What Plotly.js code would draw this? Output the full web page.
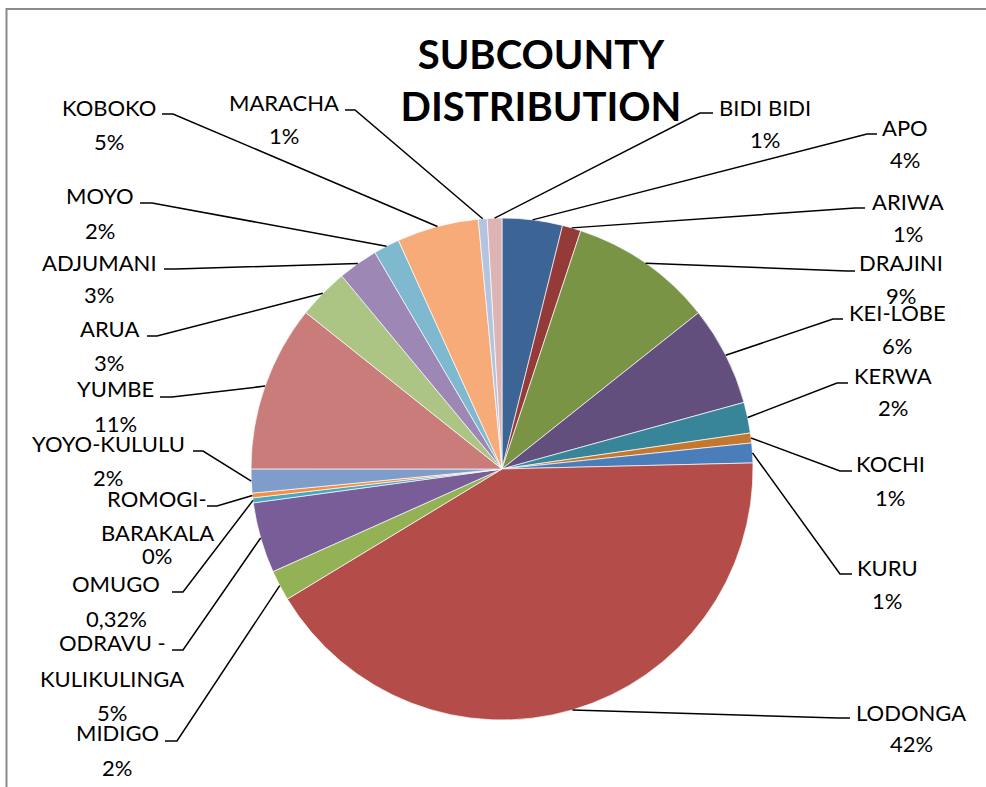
<!DOCTYPE html>
<html>
<head>
<meta charset="utf-8">
<script src="https://cdn.plot.ly/plotly-3.0.1.min.js"></script>
<style>html,body{margin:0;padding:0;background:#fff;}#chart{width:986px;height:787px;}</style>
</head>
<body>
<div id="chart"></div>
<script>
// ---- data ----
const categories = ["APO","ARIWA","DRAJINI","KEI-LOBE","KERWA","KOCHI","KURU","LODONGA","MIDIGO","ODRAVU - KULIKULINGA","OMUGO","ROMOGI-BARAKALA","YOYO-KULULU","YUMBE","ARUA","ADJUMANI","MOYO","KOBOKO","MARACHA","BIDI BIDI"];
const values = [3.88,1.2,9.23,6.42,1.98,0.64,1.27,41.72,1.97,4.55,0.32,0.3,1.54,10.71,3.26,2.58,1.68,5.26,0.57,0.94];
const pctLabels = ["4%","1%","9%","6%","2%","1%","1%","42%","2%","5%","0,32%","0%","2%","11%","3%","3%","2%","5%","1%","1%"];
const nameLines = [["APO"],["ARIWA"],["DRAJINI"],["KEI-LOBE"],["KERWA"],["KOCHI"],["KURU"],["LODONGA"],["MIDIGO"],["ODRAVU -","KULIKULINGA"],["OMUGO"],["ROMOGI-","BARAKALA"],["YOYO-KULULU"],["YUMBE"],["ARUA"],["ADJUMANI"],["MOYO"],["KOBOKO"],["MARACHA"],["BIDI BIDI"]];
const colors = ["#3C6494","#943B39","#7A9445","#624F7E","#388599","#C4772F","#4A7EBB","#B44C49","#93B155","#785D99","#46A8C2","#F58D42","#7F9DCA","#C97C7A","#ADC584","#9D88B5","#7EB9D0","#F7AB79","#B3C4E0","#DDB4B3"];

// ---- layout (pixels) ----
const W = 986, H = 787;
const PC = {x: 502, y: 469, r: 251};
// x: text centre, ys: line centres, el: elbow point, seg: end of horizontal tick next to text
const labelLayout = [
  {x:905, ys:[127,160], el:[867,134], seg:877},
  {x:908, ys:[201,233], el:[855,208], seg:865},
  {x:901, ys:[263,295], el:[847,271], seg:855},
  {x:897, ys:[312,345], el:[833,319], seg:843},
  {x:893, ys:[375,407], el:[837,383], seg:848},
  {x:890, ys:[463,497], el:[840,471], seg:852},
  {x:887, ys:[567,600], el:[840,574], seg:852},
  {x:911, ys:[712,743], el:[838,718], seg:850},
  {x:117, ys:[732,767], el:[177,741], seg:165},
  {x:112, ys:[642,678,712], el:[183,650], seg:172},
  {x:116, ys:[583,618], el:[183,592], seg:172},
  {x:157, ys:[498,532,555], el:[217,506], seg:207},
  {x:108, ys:[443,477], el:[203,451], seg:193},
  {x:115, ys:[389,423], el:[172,397], seg:160},
  {x:109, ys:[328,362], el:[157,336], seg:147},
  {x:99,  ys:[262,294], el:[176,269], seg:164},
  {x:100, ys:[195,230], el:[152,203], seg:140},
  {x:109, ys:[108,142], el:[173,114], seg:162},
  {x:284, ys:[103,135], el:[355,110], seg:345},
  {x:765, ys:[107,140], el:[700,113], seg:713}
];

const px = v => v / W;
const py = v => 1 - v / H;

const total = values.reduce((a, b) => a + b, 0);
let cum = 0;
const shapes = [];
const annotations = [];
values.forEach((v, i) => {
  const mid = (cum + v / 2) / total;
  cum += v;
  const ang = mid * 2 * Math.PI;
  const ex = PC.x + PC.r * Math.sin(ang);
  const ey = PC.y - PC.r * Math.cos(ang);
  const L = labelLayout[i];
  shapes.push({
    type: 'path', xref: 'paper', yref: 'paper',
    path: `M ${px(ex)},${py(ey)} L ${px(L.el[0])},${py(L.el[1])} L ${px(L.seg)},${py(L.el[1])}`,
    line: {color: '#000', width: 1.5}
  });
  const lines = nameLines[i].concat([pctLabels[i]]);
  lines.forEach((t, k) => {
    annotations.push({
      xref: 'paper', yref: 'paper', x: px(L.x), y: py(L.ys[k]),
      xanchor: 'center', yanchor: 'middle', showarrow: false, text: t,
      font: {family: 'Lato, sans-serif', size: 22, color: '#000'}
    });
  });
});

shapes.push({
  type: 'rect', xref: 'paper', yref: 'paper',
  x0: px(6.5), y0: py(9), x1: 1.02, y1: -0.02,
  line: {color: '#8a8a8a', width: 2}, fillcolor: 'rgba(0,0,0,0)'
});

const trace = {
  type: 'pie',
  labels: categories,
  values: values,
  sort: false,
  direction: 'clockwise',
  rotation: 0,
  textinfo: 'none',
  hoverinfo: 'label+percent',
  marker: {colors: colors, line: {color: 'rgba(255,255,255,0.85)', width: 0.8}},
  domain: {x: [px(PC.x - PC.r), px(PC.x + PC.r)], y: [py(PC.y + PC.r), py(PC.y - PC.r)]},
  showlegend: false
};

const layout = {
  width: W, height: H,
  margin: {l: 0, r: 0, t: 0, b: 0},
  paper_bgcolor: '#fff',
  title: {
    text: 'SUBCOUNTY<br>DISTRIBUTION',
    x: px(541), xanchor: 'center', xref: 'paper',
    y: py(69), yanchor: 'middle', yref: 'paper',
    font: {family: 'Lato, sans-serif', size: 40, weight: 700, color: '#000'}
  },
  shapes: shapes,
  annotations: annotations,
  showlegend: false
};

Plotly.newPlot('chart', [trace], layout, {displayModeBar: false, staticPlot: true});
</script>
</body>
</html>
